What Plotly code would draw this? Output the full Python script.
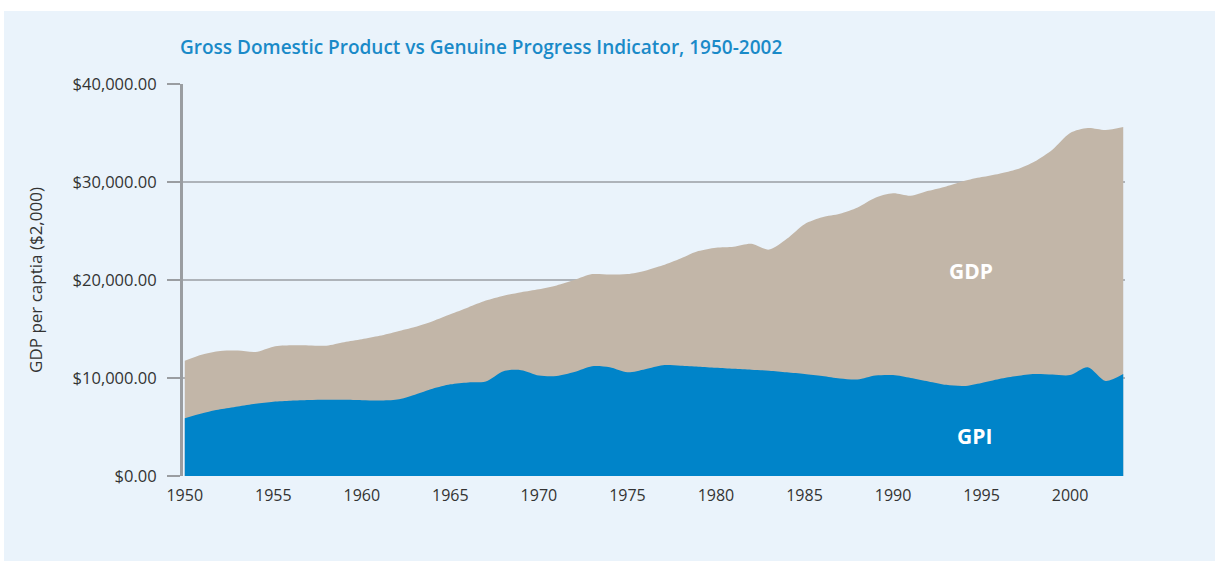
import plotly.graph_objects as go

years = list(range(1950, 2004))
gdp = [11770, 12400, 12750, 12800, 12650, 13200, 13330, 13320, 13300, 13650,
       13950, 14300, 14750, 15200, 15800, 16500, 17200, 17900, 18400, 18750,
       19050, 19450, 20000, 20600, 20550, 20600, 20950, 21500, 22200, 22950,
       23300, 23400, 23700, 23100, 24200, 25700, 26400, 26750, 27400, 28400,
       28850, 28600, 29100, 29550, 30100, 30500, 30850, 31300, 32100, 33300,
       35000, 35500, 35300, 35600]
gpi = [5900, 6400, 6800, 7100, 7380, 7580, 7680, 7750, 7780, 7780,
       7740, 7700, 7800, 8300, 8900, 9350, 9550, 9650, 10700, 10800,
       10250, 10200, 10600, 11200, 11100, 10580, 10900, 11300, 11250, 11150,
       11050, 10950, 10850, 10750, 10580, 10400, 10200, 9950, 9850, 10250,
       10300, 10000, 9650, 9300, 9180, 9500, 9900, 10200, 10400, 10350,
       10300, 11100, 9700, 10400]
y_ticks = [0, 10000, 20000, 30000, 40000]
x_ticks = [1950, 1955, 1960, 1965, 1970, 1975, 1980, 1985, 1990, 1995, 2000]

BG = "#EAF3FB"
fig = go.Figure()
fig.add_trace(go.Scatter(x=years, y=gdp, mode="lines", fill="tozeroy",
                         line=dict(width=0, shape="spline", smoothing=0.8),
                         fillcolor="#C2B6A8", hoverinfo="skip"))
fig.add_trace(go.Scatter(x=years, y=gpi, mode="lines", fill="tozeroy",
                         line=dict(width=0, shape="spline", smoothing=0.8),
                         fillcolor="#0084C9", hoverinfo="skip"))

fig.update_layout(
    width=1215, height=561,
    margin=dict(l=183, r=90, t=84, b=85),
    paper_bgcolor=BG, plot_bgcolor=BG,
    showlegend=False,
    font=dict(family="Open Sans", color="#333333"),
    title=dict(text="Gross Domestic Product vs Genuine Progress Indicator, 1950-2002",
               x=180/1215, xanchor="left", y=1-47/561, yanchor="middle",
               font=dict(family="Open Sans", size=19, color="#1A8AC8", weight=600)),
)
fig.update_xaxes(range=[1949.9, 2003.1], tickvals=x_ticks, showgrid=False,
                 zeroline=False, showline=False, ticks="outside", ticklen=5,
                 tickcolor=BG, tickfont=dict(size=16, color="#333333"))
fig.update_yaxes(range=[0, 40000], tickvals=y_ticks, tickformat="$,.2f",
                 showgrid=True, gridcolor="#AEB3B9", gridwidth=1.5,
                 zeroline=False, showline=True, linecolor="#9A9DA1", linewidth=3,
                 ticks="outside", ticklen=13, tickcolor="#9A9DA1", tickwidth=2,
                 ticklabelstandoff=7,
                 tickfont=dict(size=16.5, color="#333333"),
                 title=dict(text="GDP per captia ($2,000)", standoff=26,
                            font=dict(size=17, color="#333333")))

fig.add_annotation(x=1994.4, y=20900, text="<b>GDP</b>", showarrow=False,
                   font=dict(family="Open Sans", size=21, color="white"))
fig.add_annotation(x=1994.6, y=4100, text="<b>GPI</b>", showarrow=False,
                   font=dict(family="Open Sans", size=21, color="white"))

# white frame strips at the top and left edges of the page
fig.add_shape(type="rect", xref="paper", yref="paper", layer="below",
              x0=-183/942, x1=1032/942, y0=1 + 73/392, y1=1 + 90/392,
              fillcolor="white", line=dict(width=0))
fig.add_shape(type="rect", xref="paper", yref="paper", layer="below",
              x0=-190/942, x1=-179/942, y0=-90/392, y1=1 + 90/392,
              fillcolor="white", line=dict(width=0))

fig.write_html("out.html", config={"displayModeBar": False},
               post_script="document.body.style.margin='0';document.body.style.padding='0';")
